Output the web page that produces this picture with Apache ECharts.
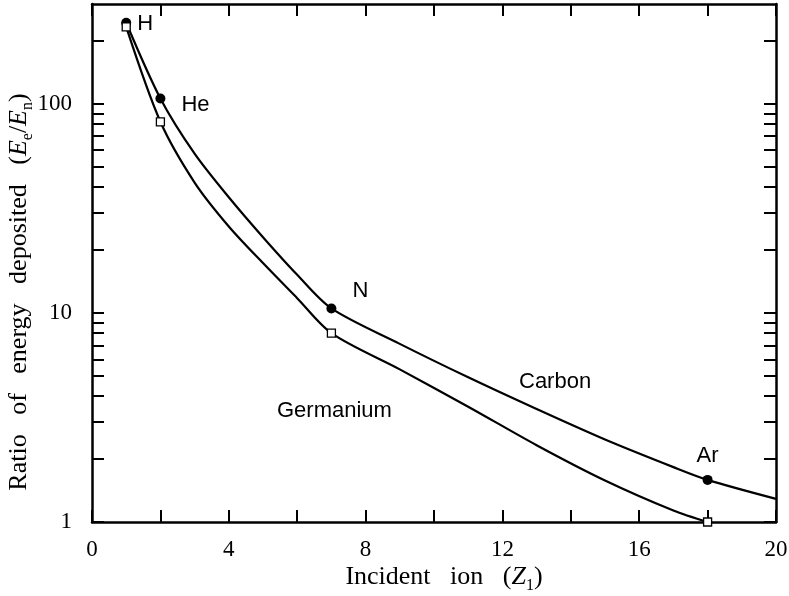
<!DOCTYPE html>
<html>
<head>
<meta charset="utf-8">
<script src="https://cdn.jsdelivr.net/npm/echarts@6/dist/echarts.min.js"></script>
<style>
html,body{margin:0;padding:0;background:#fff;}
#chart{width:789px;height:596px;}
</style>
</head>
<body>
<div id="chart"></div>
<script>
// ---- data ----
var ionNames = ['H', 'He', 'N', 'Ar'];
var ionZ = [1, 2, 7, 18];
var carbonPoints = [244, 106, 10.5, 1.59];
var germaniumPoints = [233, 82, 8.0, 1.0];

var carbonCurveZ = [1, 2, 3, 4, 5, 6, 7, 9, 11, 13, 15, 17, 18, 20];
var carbonCurveV = [244, 106, 57.7, 35.7, 23.0, 15.2, 10.5, 7.11, 4.92, 3.47, 2.48, 1.83, 1.59, 1.29];
var germCurveZ = [1, 2, 3, 4, 5, 6, 7, 9, 11, 13, 15, 17, 18];
var germCurveV = [233, 82, 42.0, 25.9, 17.3, 11.75, 8.0, 5.37, 3.56, 2.33, 1.58, 1.135, 1.0];

var xTickLabels = [0, 4, 8, 12, 16, 20];
var yTickLabels = [1, 10, 100];
var yTickValues = [1, 2, 3, 4, 5, 6, 7, 8, 9, 10, 20, 30, 40, 50, 60, 70, 80, 90, 100, 200];

var curveNames = ['Carbon', 'Germanium'];

// ---- chart ----
function pairs(xs, ys) { return xs.map(function (x, i) { return [x, ys[i]]; }); }

var labelStyles = [
  { position: 'right', distance: 6, offset: [0, 1] },
  { position: 'right', distance: 16, offset: [0, 6] },
  { position: 'right', distance: 16, offset: [0, -18] },
  { position: 'top', distance: 8, offset: [0, 0] }
];

var serif = '"Liberation Serif", "Times New Roman", serif';
var sans = '"Liberation Sans", Arial, sans-serif';

var chart = echarts.init(document.getElementById('chart'), null, { renderer: 'canvas' });

var axisLine = { show: true, onZero: false, lineStyle: { color: '#000', width: 2.5 } };
var tickStyle = { show: true, inside: true, length: 12, lineStyle: { color: '#000', width: 2 } };

var titleRich = {
  n: { fontFamily: serif, fontSize: 26, color: '#000', lineHeight: 34 },
  i: { fontFamily: serif, fontSize: 26, fontStyle: 'italic', color: '#000', lineHeight: 34 },
  s: { fontFamily: serif, fontSize: 16, color: '#000', lineHeight: 16, verticalAlign: 'bottom' }
};

chart.setOption({
  animation: false,
  backgroundColor: '#fff',
  grid: { left: 92, right: 13, top: 4, bottom: 74, containLabel: false, outerBoundsMode: 'none' },
  xAxis: [
    {
      type: 'value', min: 0, max: 20, interval: 2, position: 'bottom',
      axisLine: axisLine, axisTick: tickStyle, splitLine: { show: false },
      axisLabel: { customValues: xTickLabels, margin: 16, color: '#000', fontFamily: serif, fontSize: 23 },
      name: '{n|Incident   ion   (}{i|Z}{s|1}{n|)}',
      nameLocation: 'middle', nameGap: 38, nameMoveOverlap: false,
      nameTextStyle: { padding: [0, 0, 0, 20], rich: titleRich }
    },
    {
      type: 'value', min: 0, max: 20, interval: 2, position: 'top',
      axisLine: axisLine, axisTick: tickStyle, splitLine: { show: false },
      axisLabel: { show: false }
    }
  ],
  yAxis: [
    {
      type: 'log', logBase: 10, min: 1, max: 300, position: 'left',
      axisLine: axisLine, splitLine: { show: false },
      axisTick: Object.assign({}, tickStyle, { customValues: yTickValues }),
      axisLabel: { customValues: yTickLabels, margin: 20, color: '#000', fontFamily: serif, fontSize: 23 },
      name: '{n|Ratio   of   energy   deposited   (}{i|E}{s|e}{n|/}{i|E}{s|n}{n|)}',
      nameLocation: 'middle', nameGap: 56, nameRotate: 90, nameMoveOverlap: false,
      nameTextStyle: { padding: [0, 58, 0, 0], rich: titleRich }
    },
    {
      type: 'log', logBase: 10, min: 1, max: 300, position: 'right',
      axisLine: axisLine, splitLine: { show: false },
      axisTick: Object.assign({}, tickStyle, { customValues: yTickValues }),
      axisLabel: { show: false }
    }
  ],
  series: [
    {
      name: curveNames[0], type: 'line', xAxisIndex: 0, yAxisIndex: 0,
      data: pairs(carbonCurveZ, carbonCurveV), smooth: 0.3,
      showSymbol: false, symbol: 'none', lineStyle: { color: '#000', width: 2.2 }, z: 2
    },
    {
      name: curveNames[1], type: 'line', xAxisIndex: 0, yAxisIndex: 0,
      data: pairs(germCurveZ, germCurveV), smooth: 0.3,
      showSymbol: false, symbol: 'none', lineStyle: { color: '#000', width: 2.2 }, z: 2
    },
    {
      type: 'scatter', xAxisIndex: 0, yAxisIndex: 0, clip: false, z: 3,
      symbol: 'circle', symbolSize: 10,
      itemStyle: { color: '#000', opacity: 1 },
      data: ionZ.map(function (z, i) {
        return {
          value: [z, carbonPoints[i]], name: ionNames[i],
          label: Object.assign({ show: true, formatter: '{b}', color: '#000', opacity: 1, fontFamily: sans, fontSize: 22 }, labelStyles[i])
        };
      })
    },
    {
      type: 'scatter', xAxisIndex: 0, yAxisIndex: 0, clip: false, z: 4,
      symbol: 'rect', symbolSize: 8,
      itemStyle: { color: '#fff', borderColor: '#000', borderWidth: 1.3, opacity: 1 },
      data: pairs(ionZ, germaniumPoints)
    }
  ],
  graphic: [
    { type: 'text', left: 519, top: 371, style: { text: curveNames[0], font: '22px ' + sans, fill: '#000' } },
    { type: 'text', left: 277, top: 400, style: { text: curveNames[1], font: '22px ' + sans, fill: '#000' } }
  ]
});
</script>
</body>
</html>
